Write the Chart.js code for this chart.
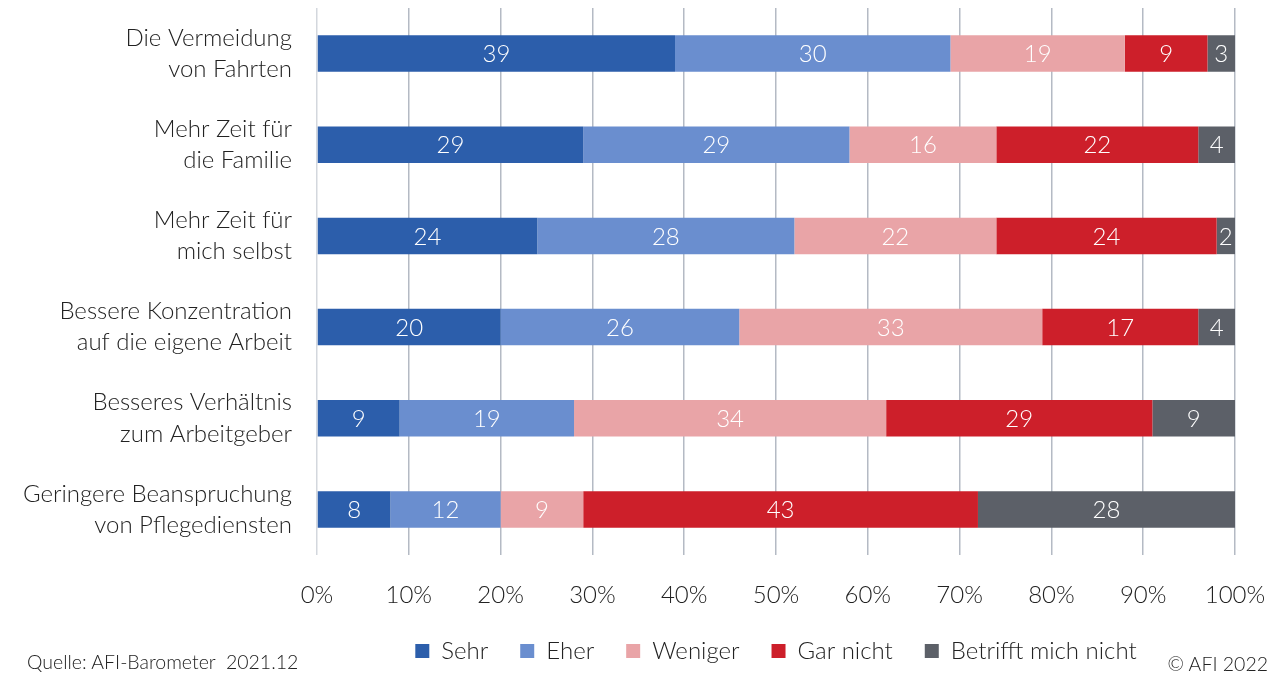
<!doctype html>
<html>

<head>
    <meta charset="utf-8">
    <title>AFI-Barometer</title>
    <script src="https://cdn.jsdelivr.net/npm/chart.js@4/dist/chart.umd.min.js"></script>
    <style>
        body { margin: 0; background: #fff; }
        #container { position: relative; width: 1281px; height: 676px; }
        .note { position: absolute; font-family: Lato, "Open Sans", sans-serif; font-weight: 300; font-size: 19.5px; color: #222; }
    </style>
</head>

<body>
    <div id="container">
        <canvas id="canvas" width="1281" height="676"></canvas>
        <div class="note" style="left: 27px; top: 650px;">Quelle: AFI-Barometer&nbsp; 2021.12</div>
        <div class="note" style="right: 13px; top: 652px;">© AFI 2022</div>
    </div>
    <script>
        var categories = [
            ['Die Vermeidung', 'von Fahrten'],
            ['Mehr Zeit für', 'die Familie'],
            ['Mehr Zeit für', 'mich selbst'],
            ['Bessere Konzentration', 'auf die eigene Arbeit'],
            ['Besseres Verhältnis', 'zum Arbeitgeber'],
            ['Geringere Beanspruchung', 'von Pflegediensten']
        ];
        var sehr = [39, 29, 24, 20, 9, 8];
        var eher = [30, 29, 28, 26, 19, 12];
        var weniger = [19, 16, 22, 33, 34, 9];
        var garNicht = [9, 22, 24, 17, 29, 43];
        var betrifftNicht = [3, 4, 2, 4, 9, 28];
        var xTicks = [0, 10, 20, 30, 40, 50, 60, 70, 80, 90, 100];

        var FONT = 'Lato, "Open Sans", sans-serif';

        // value labels in the middle of each segment
        var segmentLabels = {
            id: 'segmentLabels',
            afterDatasetsDraw: function (chart) {
                var ctx = chart.ctx;
                ctx.save();
                ctx.font = '300 24px ' + FONT;
                ctx.fillStyle = '#fff';
                ctx.textAlign = 'center';
                ctx.textBaseline = 'middle';
                chart.data.datasets.forEach(function (ds, i) {
                    chart.getDatasetMeta(i).data.forEach(function (bar, j) {
                        var x = (bar.x + bar.base) / 2;
                        ctx.fillText(String(ds.data[j]), x, bar.y + 1);
                    });
                });
                ctx.restore();
            }
        };

        var ctx = document.getElementById('canvas').getContext('2d');
        window.myBar = new Chart(ctx, {
            type: 'bar',
            data: {
                labels: categories,
                datasets: [
                    { label: 'Sehr', data: sehr, backgroundColor: '#2c5eab' },
                    { label: 'Eher', data: eher, backgroundColor: '#6a8ecf' },
                    { label: 'Weniger', data: weniger, backgroundColor: '#e9a4a7' },
                    { label: 'Gar nicht', data: garNicht, backgroundColor: '#cd1f2a' },
                    { label: 'Betrifft mich nicht', data: betrifftNicht, backgroundColor: '#5c6068' }
                ]
            },
            options: {
                indexAxis: 'y',
                responsive: false,
                animation: false,
                layout: { padding: { top: 8, right: 46, bottom: 3, left: 0 } },
                datasets: { bar: { categoryPercentage: 0.8, barPercentage: 0.5, borderWidth: 0 } },
                scales: {
                    x: {
                        stacked: true,
                        min: 0,
                        max: 100,
                        border: { display: false },
                        grid: {
                            color: function (c) { return c.index === 0 ? '#d3d7dd' : '#b4bac4'; },
                            lineWidth: 1.5,
                            drawTicks: false
                        },
                        afterBuildTicks: function (scale) {
                            scale.ticks = xTicks.map(function (v) { return { value: v }; });
                        },
                        afterFit: function (scale) {
                            scale.height = 52;
                            scale.paddingLeft = 0;
                            scale.paddingRight = 0;
                        },
                        ticks: {
                            padding: 26,
                            color: '#222',
                            font: { family: FONT, size: 24, weight: 300 },
                            callback: function (v) { return v + '%'; }
                        }
                    },
                    y: {
                        stacked: true,
                        border: { display: false },
                        grid: { display: false, drawTicks: false },
                        afterFit: function (scale) {
                            scale.width = 317;
                            scale.paddingTop = 0;
                            scale.paddingBottom = 0;
                        },
                        ticks: {
                            padding: 25,
                            color: '#222',
                            font: { family: FONT, size: 24, weight: 300, lineHeight: 1.3 }
                        }
                    }
                },
                plugins: {
                    legend: {
                        position: 'bottom',
                        fullSize: false,
                        labels: {
                            boxWidth: 14,
                            boxHeight: 14,
                            padding: 32,
                            color: '#222',
                            font: { family: FONT, size: 24, weight: 300 }
                        }
                    },
                    tooltip: { enabled: false }
                }
            },
            plugins: [segmentLabels]
        });
    </script>
</body>

</html>
